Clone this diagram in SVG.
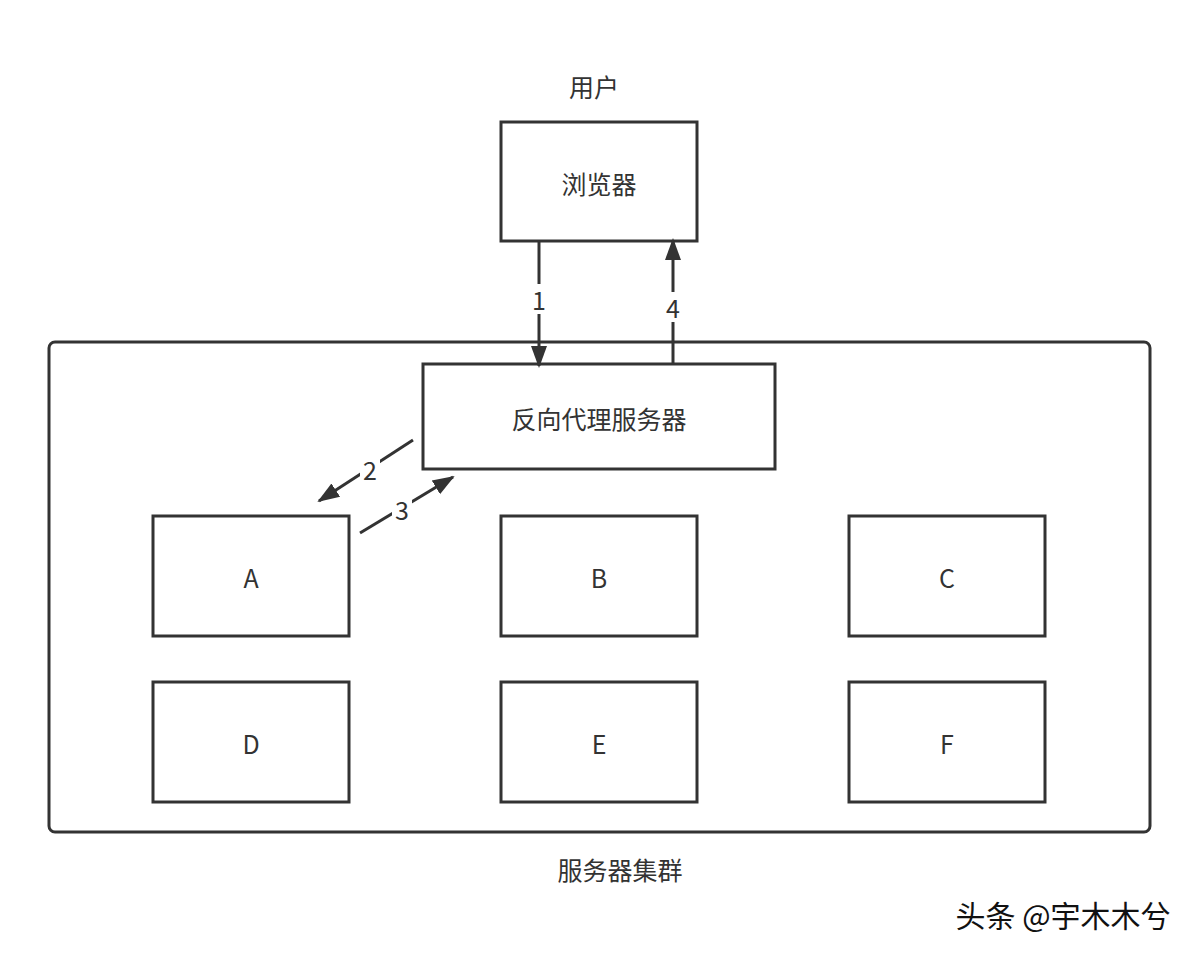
<svg xmlns="http://www.w3.org/2000/svg" width="1200" height="956" viewBox="0 0 1200 956">
<style>
.b{fill:#fff;stroke:#333;stroke-width:3}
.t{font-family:"Noto Sans CJK SC","Noto Sans",sans-serif;font-size:25px;fill:#333;text-anchor:middle;dominant-baseline:central}
.c{stroke:#333;stroke-width:3;fill:none}
.w{fill:#fff}
</style>
<defs>
<marker id="m" markerWidth="22" markerHeight="22" refX="20" refY="8" orient="auto" markerUnits="userSpaceOnUse" viewBox="0 0 22 16"><path d="M0,0L22,8L0,16z" fill="#333"/></marker></defs>
<rect width="1200" height="956" fill="#fff"/>
<g id="cluster"><rect class="b" x="49" y="342" width="1101" height="490" rx="6"/><text class="t" x="620" y="869">服务器集群</text></g>
<g id="user"><text class="t" x="594" y="86">用户</text></g>
<g id="browser"><rect class="b" x="501" y="122" width="196" height="119"/><text class="t" x="599" y="183">浏览器</text></g>
<g id="proxy"><rect class="b" x="423" y="364" width="352" height="105"/><text class="t" x="599" y="418">反向代理服务器</text></g>
<g id="A"><rect class="b" x="153" y="516" width="196" height="120"/><text class="t" x="251" y="577">A</text></g>
<g id="B"><rect class="b" x="501" y="516" width="196" height="120"/><text class="t" x="599" y="577">B</text></g>
<g id="C"><rect class="b" x="849" y="516" width="196" height="120"/><text class="t" x="947" y="577">C</text></g>
<g id="D"><rect class="b" x="153" y="682" width="196" height="120"/><text class="t" x="251" y="743">D</text></g>
<g id="E"><rect class="b" x="501" y="682" width="196" height="120"/><text class="t" x="599" y="743">E</text></g>
<g id="F"><rect class="b" x="849" y="682" width="196" height="120"/><text class="t" x="947" y="743">F</text></g>
<g id="connectors">
<line class="c" x1="539" y1="241" x2="539" y2="366" marker-end="url(#m)"/>
<rect class="w" x="530" y="284" width="18" height="30"/><text class="t" x="539" y="299">1</text>
<line class="c" x1="673" y1="363" x2="673" y2="240" marker-end="url(#m)"/>
<rect class="w" x="664" y="292" width="18" height="30"/><text class="t" x="673" y="307">4</text>
<line class="c" x1="413" y1="440" x2="319" y2="501" marker-end="url(#m)"/>
<rect class="w" x="360" y="455" width="20" height="28"/><text class="t" x="370" y="469">2</text>
<line class="c" x1="360" y1="533" x2="453" y2="477" marker-end="url(#m)"/>
<rect class="w" x="392" y="495" width="20" height="28"/><text class="t" x="402" y="509">3</text>
</g>
<text x="1063" y="914" style="font-family:'Noto Sans CJK SC',sans-serif;font-size:30px;fill:#111;text-anchor:middle;dominant-baseline:central">头条 @宇木木兮</text>
</svg>
